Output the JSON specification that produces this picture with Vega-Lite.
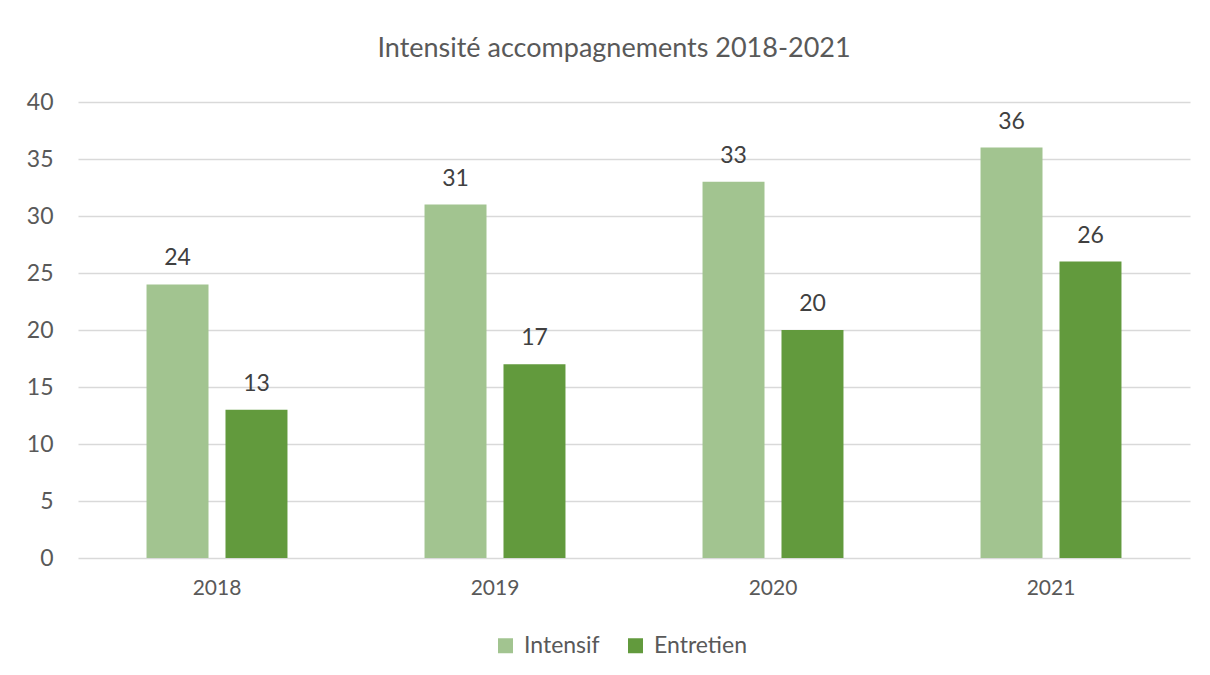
{
  "$schema": "https://vega.github.io/schema/vega-lite/v6.json",
  "autosize": {"type": "none"},
  "width": 1112,
  "height": 456,
  "padding": {"left": 78, "top": 102, "right": 20, "bottom": 117},
  "background": "#ffffff",
  "title": {
    "text": "Intensité accompagnements 2018-2021",
    "fontSize": 27,
    "font": "Lato",
    "fontWeight": "normal",
    "color": "#595959",
    "anchor": "middle",
    "frame": "group",
    "dx": -20,
    "offset": 28
  },
  "data": {
    "values": [
      {"year": "2018", "series": "Intensif", "value": 24},
      {"year": "2018", "series": "Entretien", "value": 13},
      {"year": "2019", "series": "Intensif", "value": 31},
      {"year": "2019", "series": "Entretien", "value": 17},
      {"year": "2020", "series": "Intensif", "value": 33},
      {"year": "2020", "series": "Entretien", "value": 20},
      {"year": "2021", "series": "Intensif", "value": 36},
      {"year": "2021", "series": "Entretien", "value": 26}
    ]
  },
  "encoding": {
    "x": {
      "field": "year", "type": "nominal", "title": null,
      "scale": {"paddingInner": 0.493, "paddingOuter": 0.2465},
      "axis": {"labelAngle": 0, "ticks": false, "domain": false, "labelFontSize": 21, "labelColor": "#595959", "labelFont": "Lato", "labelPadding": 19, "grid": false}
    },
    "xOffset": {
      "field": "series", "type": "nominal", "sort": ["Intensif", "Entretien"],
      "scale": {"paddingInner": 0.215, "paddingOuter": 0}
    },
    "y": {
      "field": "value", "type": "quantitative", "title": null,
      "scale": {"domain": [0, 40]},
      "axis": {"values": [0, 5, 10, 15, 20, 25, 30, 35, 40], "ticks": false, "domain": false, "grid": true, "gridColor": "#d9d9d9", "gridWidth": 1.3, "labelFontSize": 23, "labelColor": "#595959", "labelFont": "Lato", "labelPadding": 25}
    }
  },
  "layer": [
    {
      "mark": {"type": "bar"},
      "encoding": {
        "color": {
          "field": "series", "type": "nominal",
          "scale": {"domain": ["Intensif", "Entretien"], "range": ["#a2c490", "#629a3d"]},
          "legend": {
            "title": null, "orient": "none", "direction": "horizontal",
            "legendX": 416, "legendY": 532,
            "symbolType": "square", "symbolSize": 225, "symbolStrokeWidth": 0,
            "labelFontSize": 23, "labelColor": "#595959", "labelFont": "Lato",
            "labelOffset": 7, "columnPadding": 24
          }
        }
      }
    },
    {
      "mark": {"type": "text", "baseline": "alphabetic", "dy": -19, "fontSize": 23, "font": "Lato", "color": "#404040"},
      "encoding": {"text": {"field": "value", "type": "quantitative"}}
    }
  ],
  "config": {"view": {"stroke": null}}
}
